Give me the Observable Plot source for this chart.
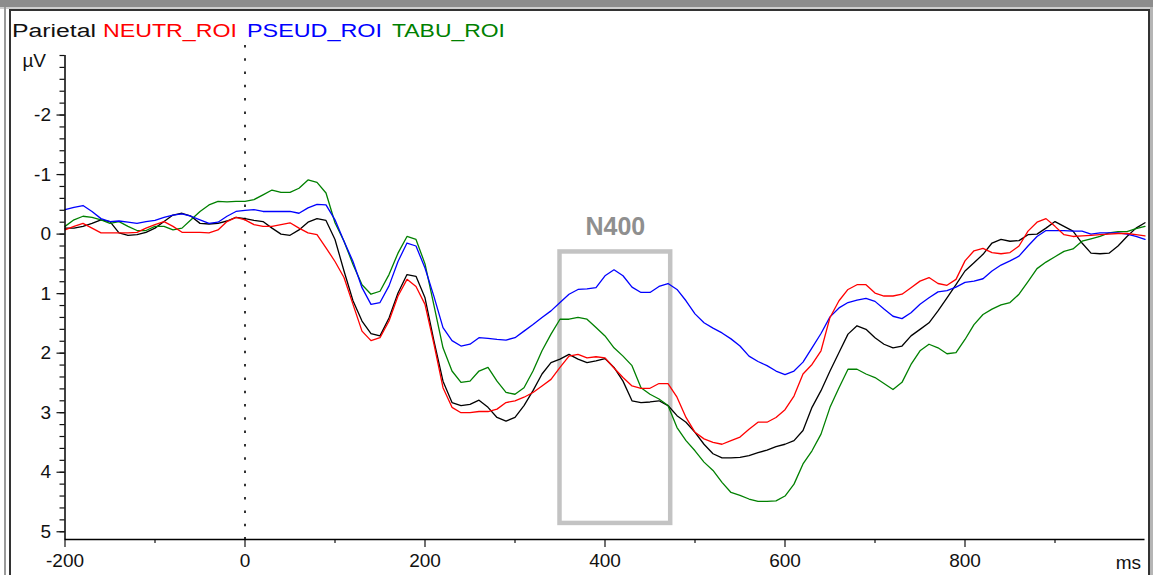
<!DOCTYPE html>
<html>
<head>
<meta charset="utf-8">
<title>Parietal ERP</title>
<script src="https://cdn.jsdelivr.net/npm/d3@7"></script>
<script src="https://cdn.jsdelivr.net/npm/@observablehq/plot@0.6"></script>
<style>
  html, body { margin: 0; padding: 0; background: #fff; }
  #panel { position: relative; width: 1153px; height: 575px; overflow: hidden; background: #fff; }
  #panel svg { position: absolute; left: 0; top: 0; }
  .edge { position: absolute; }
</style>
</head>
<body>
<div id="panel"></div>
<script>
// Sampling grid (ms), one value every 10 ms
const times = d3.range(-200, 1001, 10);

// Grand-average amplitudes (µV) per condition, parietal ROI
const neutrROI = [
  -0.07, -0.13, -0.18, -0.10, -0.02, -0.02, -0.02, -0.02, -0.03, -0.10,
  -0.16, -0.21, -0.13, -0.03, -0.03, -0.03, -0.02, -0.07, -0.21, -0.28,
  -0.24, -0.16, -0.13, -0.13, -0.16, -0.19, -0.10, -0.02, 0.01, 0.23,
  0.46, 0.73, 1.18, 1.63, 1.79, 1.74, 1.46, 1.04, 0.76, 0.88,
  1.18, 1.85, 2.58, 2.91, 3.00, 3.00, 2.98, 2.98, 2.94, 2.83,
  2.80, 2.74, 2.66, 2.55, 2.44, 2.24, 2.05, 2.02, 2.08, 2.06,
  2.08, 2.25, 2.41, 2.55, 2.59, 2.59, 2.51, 2.51, 2.74, 3.08,
  3.33, 3.44, 3.50, 3.53, 3.47, 3.41, 3.28, 3.16, 3.16, 3.08,
  2.95, 2.72, 2.35, 2.19, 1.96, 1.40, 1.12, 0.93, 0.85, 0.85,
  0.99, 1.04, 1.04, 1.01, 0.90, 0.79, 0.73, 0.83, 0.86, 0.76,
  0.45, 0.28, 0.24, 0.31, 0.33, 0.31, 0.20, -0.05, -0.20, -0.26,
  -0.13, 0.01, 0.04, 0.03, 0.02, 0.01, 0.00, -0.01, -0.01, 0.01,
  0.03
];
const pseudROI = [
  -0.41, -0.45, -0.48, -0.38, -0.26, -0.21, -0.22, -0.20, -0.18, -0.21,
  -0.23, -0.28, -0.32, -0.34, -0.30, -0.24, -0.18, -0.20, -0.30, -0.38,
  -0.40, -0.41, -0.38, -0.38, -0.38, -0.38, -0.35, -0.44, -0.50, -0.49,
  -0.24, 0.12, 0.46, 0.90, 1.18, 1.15, 0.87, 0.46, 0.15, 0.20,
  0.57, 1.05, 1.57, 1.79, 1.88, 1.85, 1.74, 1.75, 1.77, 1.78,
  1.74, 1.63, 1.52, 1.40, 1.29, 1.15, 1.01, 0.93, 0.92, 0.90,
  0.70, 0.60, 0.70, 0.89, 0.98, 0.98, 0.88, 0.83, 0.93, 1.12,
  1.34, 1.49, 1.58, 1.66, 1.76, 1.88, 2.05, 2.14, 2.21, 2.30,
  2.36, 2.30, 2.15, 1.91, 1.67, 1.39, 1.24, 1.15, 1.11, 1.08,
  1.13, 1.26, 1.38, 1.42, 1.32, 1.18, 1.07, 0.97, 0.95, 0.89,
  0.81, 0.79, 0.75, 0.62, 0.52, 0.45, 0.37, 0.20, 0.04, -0.06,
  -0.06, -0.06, -0.05, -0.05, 0.00, -0.02, -0.02, -0.02, 0.00, 0.04,
  0.09
];
const tabuROI = [
  -0.13, -0.24, -0.30, -0.28, -0.24, -0.18, -0.21, -0.13, -0.06, -0.06,
  -0.13, -0.13, -0.07, -0.10, -0.24, -0.38, -0.49, -0.55, -0.54, -0.55,
  -0.55, -0.58, -0.66, -0.74, -0.70, -0.70, -0.77, -0.91, -0.87, -0.69,
  -0.19, 0.12, 0.51, 0.85, 1.01, 0.96, 0.68, 0.32, 0.04, 0.09,
  0.50, 1.20, 1.91, 2.30, 2.49, 2.47, 2.30, 2.24, 2.47, 2.66,
  2.69, 2.58, 2.30, 1.96, 1.68, 1.43, 1.43, 1.40, 1.43, 1.57,
  1.71, 1.91, 2.05, 2.21, 2.58, 2.69, 2.77, 2.88, 3.25, 3.47,
  3.64, 3.83, 3.97, 4.17, 4.34, 4.39, 4.45, 4.49, 4.49, 4.48,
  4.40, 4.20, 3.86, 3.64, 3.36, 2.91, 2.58, 2.27, 2.27, 2.35,
  2.41, 2.51, 2.61, 2.49, 2.19, 1.96, 1.85, 1.91, 2.01, 1.99,
  1.77, 1.52, 1.35, 1.26, 1.19, 1.15, 1.01, 0.80, 0.58, 0.47,
  0.38, 0.29, 0.25, 0.12, 0.08, 0.04, -0.02, -0.04, -0.04, -0.09,
  -0.13
];
const otherROI = [
  -0.10, -0.10, -0.13, -0.18, -0.24, -0.21, -0.02, 0.02, 0.01, -0.03,
  -0.10, -0.21, -0.32, -0.35, -0.30, -0.18, -0.17, -0.18, -0.22, -0.28,
  -0.26, -0.23, -0.21, -0.10, 0.00, 0.02, -0.07, -0.20, -0.26, -0.23,
  0.09, 0.62, 1.12, 1.46, 1.67, 1.71, 1.41, 0.99, 0.68, 0.71,
  1.07, 1.80, 2.47, 2.83, 2.88, 2.86, 2.79, 2.91, 3.08, 3.14,
  3.08, 2.88, 2.63, 2.35, 2.16, 2.10, 2.02, 2.10, 2.16, 2.13,
  2.09, 2.24, 2.47, 2.80, 2.83, 2.82, 2.80, 2.88, 3.05, 3.16,
  3.33, 3.53, 3.69, 3.76, 3.76, 3.75, 3.72, 3.67, 3.63, 3.57,
  3.53, 3.47, 3.30, 2.91, 2.63, 2.30, 1.99, 1.68, 1.54, 1.60,
  1.74, 1.85, 1.91, 1.88, 1.71, 1.60, 1.49, 1.29, 1.07, 0.85,
  0.62, 0.48, 0.34, 0.15, 0.09, 0.12, 0.11, 0.01, 0.00, -0.10,
  -0.21, -0.13, -0.05, 0.15, 0.32, 0.33, 0.32, 0.20, 0.04, -0.10,
  -0.19
];

// Labels and ticks
const regionName = "Parietal";
const legendNames = ["NEUTR_ROI", "PSEUD_ROI", "TABU_ROI"];
const xTickLabels = [-200, 0, 200, 400, 600, 800];
const xMinorTicks = [-100, 100, 300, 500, 700, 900];
const yTickLabels = [-2, -1, 0, 1, 2, 3, 4, 5];
const yMinorTicks = d3.range(-30, 51, 2).map(d => d / 10);
const timeDomain = [-200, 1000];
const voltDomain = [-3, 5.13];
const stimulusOnset = [{t: 0, from: -3.17, to: 5.13}];

// N400 analysis window (ms) and its µV extent
const n400Window = [{label: "N400", start: 350, end: 473, top: 0.3, bottom: 4.86}];

// Styling
const palette = {other: "#000000", TABU_ROI: "#008000", PSEUD_ROI: "#0000ff", NEUTR_ROI: "#ff0000"};
const font = "'Liberation Sans', Arial, sans-serif";

const traces = [
  {key: "other", values: otherROI},
  {key: "TABU_ROI", values: tabuROI},
  {key: "PSEUD_ROI", values: pseudROI},
  {key: "NEUTR_ROI", values: neutrROI}
];

const lineMarks = traces.map(tr =>
  Plot.line(tr.values.map((v, i) => ({t: times[i], v})), {
    x: "t", y: "v", stroke: palette[tr.key], strokeWidth: 1.3
  })
);

const chart = Plot.plot({
  width: 1153,
  height: 575,
  marginLeft: 64.5,
  marginRight: 8.5,
  marginTop: 55,
  marginBottom: 36,
  style: {background: "transparent", fontFamily: font, fontSize: "19px", color: "#111", overflow: "visible"},
  x: {domain: timeDomain, label: null},
  y: {domain: voltDomain, reverse: true, label: null},
  marks: [
    Plot.rect(n400Window, {
      x1: "start", x2: "end", y1: "top", y2: "bottom",
      fill: "none", stroke: "#c3c3c3", strokeWidth: 4.5
    }),
    Plot.text(n400Window, {
      x: d => (d.start + d.end) / 2, y: "top", text: "label",
      dy: -25, fontSize: 25, fontWeight: "bold", fill: "#8f8f8f"
    }),
    Plot.ruleX(stimulusOnset, {x: "t", y1: "from", y2: "to", stroke: "#000", strokeWidth: 1.6, strokeDasharray: "2.5,10.8"}),
    ...lineMarks,
    Plot.axisY(yMinorTicks, {tickSize: 5, tickFormat: () => "", strokeWidth: 1.2}),
    Plot.axisY(yTickLabels, {tickSize: 8, tickPadding: 6, tickFormat: d => String(d), strokeWidth: 1.2}),
    Plot.axisX(xMinorTicks, {tickSize: 4, tickFormat: () => "", strokeWidth: 1.2}),
    Plot.axisX(xTickLabels, {tickSize: 8, tickPadding: 6, tickFormat: d => String(d), strokeWidth: 1.2}),
    Plot.ruleX([timeDomain[0]], {stroke: "#000", strokeWidth: 1.5}),
    Plot.ruleY([voltDomain[1]], {stroke: "#000", strokeWidth: 1.5})
  ]
});

const panel = document.getElementById("panel");
panel.appendChild(chart);

// Header legend and unit labels
const overlay = d3.select(panel).append("svg")
  .attr("width", 1153).attr("height", 575)
  .style("font-family", font);

const legendItems = [
  {text: regionName, color: "#111", x: 12, w: 84},
  {text: legendNames[0], color: palette.NEUTR_ROI, x: 103, w: 134},
  {text: legendNames[1], color: palette.PSEUD_ROI, x: 247, w: 135},
  {text: legendNames[2], color: palette.TABU_ROI, x: 392, w: 113}
];
overlay.selectAll("text.legend").data(legendItems).join("text")
  .attr("class", "legend")
  .attr("x", d => d.x).attr("y", 37)
  .attr("font-size", 18)
  .attr("fill", d => d.color)
  .attr("textLength", d => d.w)
  .attr("lengthAdjust", "spacingAndGlyphs")
  .text(d => d.text);

overlay.append("text").attr("x", 46).attr("y", 67).attr("text-anchor", "end")
  .attr("font-size", 19).attr("fill", "#111").text("µV");
overlay.append("text").attr("x", 1141).attr("y", 569).attr("text-anchor", "end")
  .attr("font-size", 19).attr("fill", "#111").text("ms");

// Window frame around the plot panel
const edges = [
  {l: 0, t: 0, w: 1153, h: 7, c: "#8d8d8d"},
  {l: 0, t: 7, w: 1153, h: 2, c: "#cfcfcf"},
  {l: 9, t: 9, w: 1141, h: 2, c: "#333"},
  {l: 4, t: 7, w: 2, h: 568, c: "#9a9a9a"},
  {l: 9, t: 9, w: 2, h: 566, c: "#333"},
  {l: 1148, t: 9, w: 2, h: 566, c: "#333"},
  {l: 1150, t: 7, w: 3, h: 568, c: "#b5b5b5"}
];
edges.forEach(e => {
  const div = document.createElement("div");
  div.className = "edge";
  Object.assign(div.style, {left: e.l + "px", top: e.t + "px", width: e.w + "px", height: e.h + "px", background: e.c});
  panel.appendChild(div);
});
</script>
</body>
</html>
